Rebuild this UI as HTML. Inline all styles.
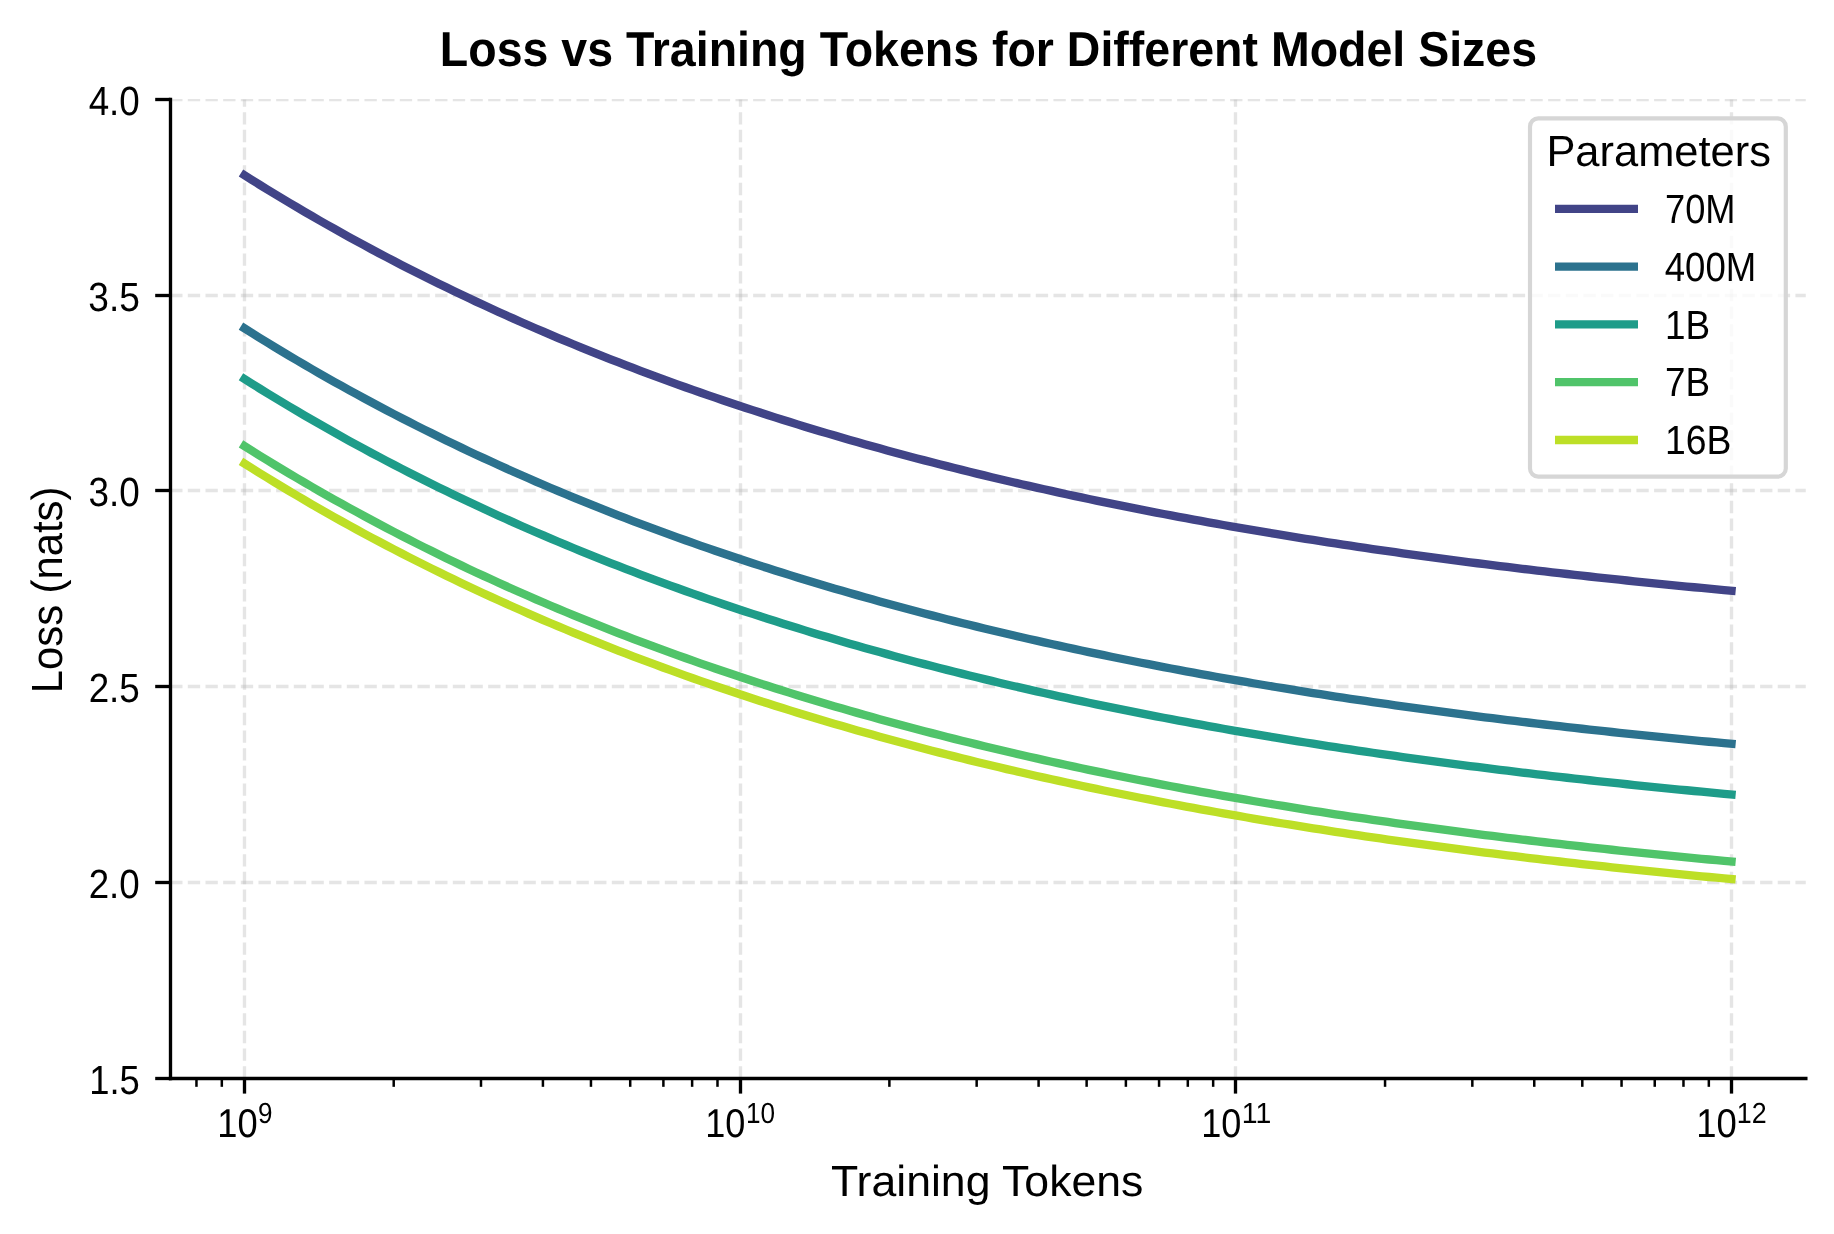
<!DOCTYPE html><html><head><meta charset="utf-8"><style>html,body{margin:0;padding:0;background:#fff;overflow:hidden}svg{display:block;will-change:transform}</style></head><body>
<svg width="1834" height="1234" viewBox="0 0 1834 1234" style="text-rendering:geometricPrecision">
<rect x="0" y="0" width="1834" height="1234" fill="#ffffff"/>
<defs><clipPath id="ax"><rect x="170.15" y="99.00" width="1635.71" height="979.50"/></clipPath></defs>
<g clip-path="url(#ax)">
<line x1="170.15" y1="99.50" x2="1805.86" y2="99.50" stroke="#b0b0b0" stroke-opacity="0.33" stroke-width="3.333" stroke-dasharray="12.333 5.333"/>
<line x1="170.15" y1="295.50" x2="1805.86" y2="295.50" stroke="#b0b0b0" stroke-opacity="0.33" stroke-width="3.333" stroke-dasharray="12.333 5.333"/>
<line x1="170.15" y1="490.50" x2="1805.86" y2="490.50" stroke="#b0b0b0" stroke-opacity="0.33" stroke-width="3.333" stroke-dasharray="12.333 5.333"/>
<line x1="170.15" y1="686.50" x2="1805.86" y2="686.50" stroke="#b0b0b0" stroke-opacity="0.33" stroke-width="3.333" stroke-dasharray="12.333 5.333"/>
<line x1="170.15" y1="882.50" x2="1805.86" y2="882.50" stroke="#b0b0b0" stroke-opacity="0.33" stroke-width="3.333" stroke-dasharray="12.333 5.333"/>
<line x1="244.50" y1="1078.50" x2="244.50" y2="99.50" stroke="#b0b0b0" stroke-opacity="0.33" stroke-width="3.333" stroke-dasharray="12.333 5.333"/>
<line x1="740.50" y1="1078.50" x2="740.50" y2="99.50" stroke="#b0b0b0" stroke-opacity="0.33" stroke-width="3.333" stroke-dasharray="12.333 5.333"/>
<line x1="1235.50" y1="1078.50" x2="1235.50" y2="99.50" stroke="#b0b0b0" stroke-opacity="0.33" stroke-width="3.333" stroke-dasharray="12.333 5.333"/>
<line x1="1731.50" y1="1078.50" x2="1731.50" y2="99.50" stroke="#b0b0b0" stroke-opacity="0.33" stroke-width="3.333" stroke-dasharray="12.333 5.333"/>
</g>
<polyline points="244.50,175.25 251.97,179.95 259.44,184.60 266.92,189.21 274.39,193.77 281.86,198.29 289.33,202.77 296.81,207.20 304.28,211.59 311.75,215.93 319.22,220.24 326.70,224.50 334.17,228.72 341.64,232.90 349.11,237.04 356.59,241.14 364.06,245.20 371.53,249.23 379.00,253.21 386.48,257.15 393.95,261.06 401.42,264.93 408.89,268.76 416.37,272.55 423.84,276.31 431.31,280.03 438.78,283.71 446.26,287.36 453.73,290.97 461.20,294.55 468.67,298.10 476.14,301.61 483.62,305.08 491.09,308.52 498.56,311.93 506.03,315.31 513.51,318.65 520.98,321.96 528.45,325.24 535.92,328.49 543.40,331.70 550.87,334.89 558.34,338.04 565.81,341.17 573.29,344.26 580.76,347.32 588.23,350.36 595.70,353.36 603.18,356.33 610.65,359.28 618.12,362.20 625.59,365.09 633.07,367.95 640.54,370.78 648.01,373.59 655.48,376.37 662.96,379.12 670.43,381.85 677.90,384.55 685.37,387.22 692.84,389.87 700.32,392.49 707.79,395.09 715.26,397.66 722.73,400.21 730.21,402.73 737.68,405.23 745.15,407.70 752.62,410.15 760.10,412.57 767.57,414.98 775.04,417.36 782.51,419.71 789.99,422.05 797.46,424.36 804.93,426.65 812.40,428.91 819.88,431.16 827.35,433.38 834.82,435.58 842.29,437.76 849.77,439.92 857.24,442.06 864.71,444.17 872.18,446.27 879.66,448.35 887.13,450.40 894.60,452.44 902.07,454.46 909.54,456.45 917.02,458.43 924.49,460.39 931.96,462.33 939.43,464.25 946.91,466.15 954.38,468.04 961.85,469.90 969.32,471.75 976.80,473.58 984.27,475.39 991.74,477.19 999.21,478.97 1006.69,480.73 1014.16,482.47 1021.63,484.20 1029.10,485.91 1036.58,487.60 1044.05,489.28 1051.52,490.94 1058.99,492.58 1066.47,494.21 1073.94,495.82 1081.41,497.42 1088.88,499.00 1096.35,500.57 1103.83,502.12 1111.30,503.66 1118.77,505.18 1126.24,506.68 1133.72,508.18 1141.19,509.65 1148.66,511.12 1156.13,512.57 1163.61,514.00 1171.08,515.42 1178.55,516.83 1186.02,518.22 1193.50,519.60 1200.97,520.97 1208.44,522.33 1215.91,523.67 1223.39,524.99 1230.86,526.31 1238.33,527.61 1245.80,528.90 1253.28,530.18 1260.75,531.44 1268.22,532.70 1275.69,533.94 1283.17,535.17 1290.64,536.38 1298.11,537.59 1305.58,538.78 1313.05,539.96 1320.53,541.13 1328.00,542.29 1335.47,543.44 1342.94,544.58 1350.42,545.70 1357.89,546.82 1365.36,547.92 1372.83,549.01 1380.31,550.10 1387.78,551.17 1395.25,552.23 1402.72,553.28 1410.20,554.32 1417.67,555.35 1425.14,556.38 1432.61,557.39 1440.09,558.39 1447.56,559.38 1455.03,560.36 1462.50,561.34 1469.98,562.30 1477.45,563.25 1484.92,564.20 1492.39,565.13 1499.87,566.06 1507.34,566.98 1514.81,567.89 1522.28,568.79 1529.75,569.68 1537.23,570.56 1544.70,571.44 1552.17,572.30 1559.64,573.16 1567.12,574.01 1574.59,574.85 1582.06,575.68 1589.53,576.51 1597.01,577.32 1604.48,578.13 1611.95,578.93 1619.42,579.73 1626.90,580.51 1634.37,581.29 1641.84,582.06 1649.31,582.83 1656.79,583.58 1664.26,584.33 1671.73,585.07 1679.20,585.80 1686.68,586.53 1694.15,587.25 1701.62,587.96 1709.09,588.67 1716.57,589.37 1724.04,590.06 1731.51,590.75" fill="none" stroke="#414487" stroke-width="8.333" stroke-linecap="square" stroke-linejoin="round"/>
<polyline points="244.50,328.32 251.97,333.02 259.44,337.67 266.92,342.28 274.39,346.84 281.86,351.36 289.33,355.83 296.81,360.27 304.28,364.66 311.75,369.00 319.22,373.31 326.70,377.57 334.17,381.79 341.64,385.97 349.11,390.11 356.59,394.21 364.06,398.27 371.53,402.29 379.00,406.28 386.48,410.22 393.95,414.13 401.42,417.99 408.89,421.82 416.37,425.62 423.84,429.37 431.31,433.09 438.78,436.78 446.26,440.43 453.73,444.04 461.20,447.62 468.67,451.16 476.14,454.67 483.62,458.15 491.09,461.59 498.56,465.00 506.03,468.38 513.51,471.72 520.98,475.03 528.45,478.31 535.92,481.56 543.40,484.77 550.87,487.96 558.34,491.11 565.81,494.23 573.29,497.33 580.76,500.39 588.23,503.42 595.70,506.43 603.18,509.40 610.65,512.35 618.12,515.27 625.59,518.16 633.07,521.02 640.54,523.85 648.01,526.66 655.48,529.44 662.96,532.19 670.43,534.92 677.90,537.62 685.37,540.29 692.84,542.94 700.32,545.56 707.79,548.16 715.26,550.73 722.73,553.27 730.21,555.80 737.68,558.29 745.15,560.77 752.62,563.22 760.10,565.64 767.57,568.05 775.04,570.42 782.51,572.78 789.99,575.11 797.46,577.42 804.93,579.71 812.40,581.98 819.88,584.22 827.35,586.45 834.82,588.65 842.29,590.83 849.77,592.99 857.24,595.12 864.71,597.24 872.18,599.34 879.66,601.41 887.13,603.47 894.60,605.51 902.07,607.52 909.54,609.52 917.02,611.50 924.49,613.46 931.96,615.40 939.43,617.32 946.91,619.22 954.38,621.11 961.85,622.97 969.32,624.82 976.80,626.65 984.27,628.46 991.74,630.26 999.21,632.03 1006.69,633.79 1014.16,635.54 1021.63,637.26 1029.10,638.97 1036.58,640.67 1044.05,642.34 1051.52,644.00 1058.99,645.65 1066.47,647.28 1073.94,648.89 1081.41,650.49 1088.88,652.07 1096.35,653.64 1103.83,655.19 1111.30,656.72 1118.77,658.24 1126.24,659.75 1133.72,661.24 1141.19,662.72 1148.66,664.18 1156.13,665.63 1163.61,667.07 1171.08,668.49 1178.55,669.90 1186.02,671.29 1193.50,672.67 1200.97,674.04 1208.44,675.39 1215.91,676.73 1223.39,678.06 1230.86,679.38 1238.33,680.68 1245.80,681.97 1253.28,683.25 1260.75,684.51 1268.22,685.76 1275.69,687.00 1283.17,688.23 1290.64,689.45 1298.11,690.65 1305.58,691.85 1313.05,693.03 1320.53,694.20 1328.00,695.36 1335.47,696.51 1342.94,697.64 1350.42,698.77 1357.89,699.88 1365.36,700.99 1372.83,702.08 1380.31,703.16 1387.78,704.24 1395.25,705.30 1402.72,706.35 1410.20,707.39 1417.67,708.42 1425.14,709.44 1432.61,710.46 1440.09,711.46 1447.56,712.45 1455.03,713.43 1462.50,714.40 1469.98,715.37 1477.45,716.32 1484.92,717.27 1492.39,718.20 1499.87,719.13 1507.34,720.05 1514.81,720.96 1522.28,721.86 1529.75,722.75 1537.23,723.63 1544.70,724.50 1552.17,725.37 1559.64,726.23 1567.12,727.08 1574.59,727.92 1582.06,728.75 1589.53,729.58 1597.01,730.39 1604.48,731.20 1611.95,732.00 1619.42,732.80 1626.90,733.58 1634.37,734.36 1641.84,735.13 1649.31,735.89 1656.79,736.65 1664.26,737.40 1671.73,738.14 1679.20,738.87 1686.68,739.60 1694.15,740.32 1701.62,741.03 1709.09,741.74 1716.57,742.44 1724.04,743.13 1731.51,743.81" fill="none" stroke="#2c728e" stroke-width="8.333" stroke-linecap="square" stroke-linejoin="round"/>
<polyline points="244.50,378.99 251.97,383.68 259.44,388.34 266.92,392.94 274.39,397.51 281.86,402.03 289.33,406.50 296.81,410.93 304.28,415.32 311.75,419.67 319.22,423.97 326.70,428.23 334.17,432.46 341.64,436.64 349.11,440.78 356.59,444.88 364.06,448.94 371.53,452.96 379.00,456.94 386.48,460.89 393.95,464.79 401.42,468.66 408.89,472.49 416.37,476.28 423.84,480.04 431.31,483.76 438.78,487.44 446.26,491.09 453.73,494.71 461.20,498.29 468.67,501.83 476.14,505.34 483.62,508.81 491.09,512.26 498.56,515.67 506.03,519.04 513.51,522.38 520.98,525.70 528.45,528.97 535.92,532.22 543.40,535.44 550.87,538.62 558.34,541.78 565.81,544.90 573.29,547.99 580.76,551.06 588.23,554.09 595.70,557.09 603.18,560.07 610.65,563.01 618.12,565.93 625.59,568.82 633.07,571.68 640.54,574.52 648.01,577.32 655.48,580.10 662.96,582.86 670.43,585.58 677.90,588.28 685.37,590.96 692.84,593.60 700.32,596.23 707.79,598.82 715.26,601.39 722.73,603.94 730.21,606.46 737.68,608.96 745.15,611.43 752.62,613.88 760.10,616.31 767.57,618.71 775.04,621.09 782.51,623.45 789.99,625.78 797.46,628.09 804.93,630.38 812.40,632.65 819.88,634.89 827.35,637.11 834.82,639.31 842.29,641.49 849.77,643.65 857.24,645.79 864.71,647.91 872.18,650.00 879.66,652.08 887.13,654.14 894.60,656.17 902.07,658.19 909.54,660.19 917.02,662.17 924.49,664.12 931.96,666.06 939.43,667.99 946.91,669.89 954.38,671.77 961.85,673.64 969.32,675.49 976.80,677.32 984.27,679.13 991.74,680.92 999.21,682.70 1006.69,684.46 1014.16,686.20 1021.63,687.93 1029.10,689.64 1036.58,691.33 1044.05,693.01 1051.52,694.67 1058.99,696.31 1066.47,697.94 1073.94,699.56 1081.41,701.15 1088.88,702.73 1096.35,704.30 1103.83,705.85 1111.30,707.39 1118.77,708.91 1126.24,710.42 1133.72,711.91 1141.19,713.39 1148.66,714.85 1156.13,716.30 1163.61,717.73 1171.08,719.16 1178.55,720.56 1186.02,721.96 1193.50,723.34 1200.97,724.71 1208.44,726.06 1215.91,727.40 1223.39,728.73 1230.86,730.04 1238.33,731.35 1245.80,732.64 1253.28,733.91 1260.75,735.18 1268.22,736.43 1275.69,737.67 1283.17,738.90 1290.64,740.12 1298.11,741.32 1305.58,742.51 1313.05,743.70 1320.53,744.87 1328.00,746.02 1335.47,747.17 1342.94,748.31 1350.42,749.43 1357.89,750.55 1365.36,751.65 1372.83,752.75 1380.31,753.83 1387.78,754.90 1395.25,755.96 1402.72,757.02 1410.20,758.06 1417.67,759.09 1425.14,760.11 1432.61,761.12 1440.09,762.12 1447.56,763.11 1455.03,764.10 1462.50,765.07 1469.98,766.03 1477.45,766.99 1484.92,767.93 1492.39,768.87 1499.87,769.80 1507.34,770.71 1514.81,771.62 1522.28,772.52 1529.75,773.41 1537.23,774.30 1544.70,775.17 1552.17,776.04 1559.64,776.89 1567.12,777.74 1574.59,778.58 1582.06,779.42 1589.53,780.24 1597.01,781.06 1604.48,781.87 1611.95,782.67 1619.42,783.46 1626.90,784.25 1634.37,785.03 1641.84,785.80 1649.31,786.56 1656.79,787.31 1664.26,788.06 1671.73,788.80 1679.20,789.54 1686.68,790.26 1694.15,790.98 1701.62,791.70 1709.09,792.40 1716.57,793.10 1724.04,793.79 1731.51,794.48" fill="none" stroke="#1e9c89" stroke-width="8.333" stroke-linecap="square" stroke-linejoin="round"/>
<polyline points="244.50,446.07 251.97,450.77 259.44,455.42 266.92,460.03 274.39,464.59 281.86,469.11 289.33,473.59 296.81,478.02 304.28,482.41 311.75,486.75 319.22,491.06 326.70,495.32 334.17,499.54 341.64,503.72 349.11,507.86 356.59,511.96 364.06,516.02 371.53,520.04 379.00,524.03 386.48,527.97 393.95,531.88 401.42,535.74 408.89,539.57 416.37,543.37 423.84,547.12 431.31,550.84 438.78,554.53 446.26,558.18 453.73,561.79 461.20,565.37 468.67,568.91 476.14,572.42 483.62,575.90 491.09,579.34 498.56,582.75 506.03,586.13 513.51,589.47 520.98,592.78 528.45,596.06 535.92,599.31 543.40,602.52 550.87,605.71 558.34,608.86 565.81,611.98 573.29,615.08 580.76,618.14 588.23,621.17 595.70,624.18 603.18,627.15 610.65,630.10 618.12,633.02 625.59,635.91 633.07,638.77 640.54,641.60 648.01,644.41 655.48,647.19 662.96,649.94 670.43,652.67 677.90,655.37 685.37,658.04 692.84,660.69 700.32,663.31 707.79,665.91 715.26,668.48 722.73,671.02 730.21,673.55 737.68,676.04 745.15,678.52 752.62,680.97 760.10,683.39 767.57,685.80 775.04,688.17 782.51,690.53 789.99,692.86 797.46,695.18 804.93,697.46 812.40,699.73 819.88,701.97 827.35,704.20 834.82,706.40 842.29,708.58 849.77,710.74 857.24,712.87 864.71,714.99 872.18,717.09 879.66,719.17 887.13,721.22 894.60,723.26 902.07,725.27 909.54,727.27 917.02,729.25 924.49,731.21 931.96,733.15 939.43,735.07 946.91,736.97 954.38,738.86 961.85,740.72 969.32,742.57 976.80,744.40 984.27,746.21 991.74,748.01 999.21,749.79 1006.69,751.55 1014.16,753.29 1021.63,755.01 1029.10,756.72 1036.58,758.42 1044.05,760.09 1051.52,761.75 1058.99,763.40 1066.47,765.03 1073.94,766.64 1081.41,768.24 1088.88,769.82 1096.35,771.39 1103.83,772.94 1111.30,774.47 1118.77,776.00 1126.24,777.50 1133.72,778.99 1141.19,780.47 1148.66,781.94 1156.13,783.38 1163.61,784.82 1171.08,786.24 1178.55,787.65 1186.02,789.04 1193.50,790.42 1200.97,791.79 1208.44,793.14 1215.91,794.48 1223.39,795.81 1230.86,797.13 1238.33,798.43 1245.80,799.72 1253.28,801.00 1260.75,802.26 1268.22,803.51 1275.69,804.76 1283.17,805.98 1290.64,807.20 1298.11,808.41 1305.58,809.60 1313.05,810.78 1320.53,811.95 1328.00,813.11 1335.47,814.26 1342.94,815.39 1350.42,816.52 1357.89,817.63 1365.36,818.74 1372.83,819.83 1380.31,820.91 1387.78,821.99 1395.25,823.05 1402.72,824.10 1410.20,825.14 1417.67,826.17 1425.14,827.19 1432.61,828.21 1440.09,829.21 1447.56,830.20 1455.03,831.18 1462.50,832.15 1469.98,833.12 1477.45,834.07 1484.92,835.02 1492.39,835.95 1499.87,836.88 1507.34,837.80 1514.81,838.71 1522.28,839.61 1529.75,840.50 1537.23,841.38 1544.70,842.26 1552.17,843.12 1559.64,843.98 1567.12,844.83 1574.59,845.67 1582.06,846.50 1589.53,847.33 1597.01,848.14 1604.48,848.95 1611.95,849.75 1619.42,850.55 1626.90,851.33 1634.37,852.11 1641.84,852.88 1649.31,853.64 1656.79,854.40 1664.26,855.15 1671.73,855.89 1679.20,856.62 1686.68,857.35 1694.15,858.07 1701.62,858.78 1709.09,859.49 1716.57,860.19 1724.04,860.88 1731.51,861.57" fill="none" stroke="#50c46a" stroke-width="8.333" stroke-linecap="square" stroke-linejoin="round"/>
<polyline points="244.50,463.60 251.97,468.29 259.44,472.95 266.92,477.55 274.39,482.12 281.86,486.64 289.33,491.11 296.81,495.54 304.28,499.93 311.75,504.28 319.22,508.58 326.70,512.85 334.17,517.07 341.64,521.25 349.11,525.39 356.59,529.49 364.06,533.55 371.53,537.57 379.00,541.55 386.48,545.50 393.95,549.40 401.42,553.27 408.89,557.10 416.37,560.89 423.84,564.65 431.31,568.37 438.78,572.05 446.26,575.70 453.73,579.32 461.20,582.90 468.67,586.44 476.14,589.95 483.62,593.43 491.09,596.87 498.56,600.28 506.03,603.65 513.51,607.00 520.98,610.31 528.45,613.58 535.92,616.83 543.40,620.05 550.87,623.23 558.34,626.39 565.81,629.51 573.29,632.60 580.76,635.67 588.23,638.70 595.70,641.70 603.18,644.68 610.65,647.63 618.12,650.54 625.59,653.43 633.07,656.29 640.54,659.13 648.01,661.93 655.48,664.71 662.96,667.47 670.43,670.19 677.90,672.89 685.37,675.57 692.84,678.21 700.32,680.84 707.79,683.43 715.26,686.00 722.73,688.55 730.21,691.07 737.68,693.57 745.15,696.04 752.62,698.49 760.10,700.92 767.57,703.32 775.04,705.70 782.51,708.06 789.99,710.39 797.46,712.70 804.93,714.99 812.40,717.26 819.88,719.50 827.35,721.72 834.82,723.92 842.29,726.10 849.77,728.26 857.24,730.40 864.71,732.52 872.18,734.61 879.66,736.69 887.13,738.75 894.60,740.78 902.07,742.80 909.54,744.80 917.02,746.78 924.49,748.73 931.96,750.67 939.43,752.60 946.91,754.50 954.38,756.38 961.85,758.25 969.32,760.10 976.80,761.93 984.27,763.74 991.74,765.53 999.21,767.31 1006.69,769.07 1014.16,770.81 1021.63,772.54 1029.10,774.25 1036.58,775.94 1044.05,777.62 1051.52,779.28 1058.99,780.92 1066.47,782.55 1073.94,784.17 1081.41,785.76 1088.88,787.35 1096.35,788.91 1103.83,790.46 1111.30,792.00 1118.77,793.52 1126.24,795.03 1133.72,796.52 1141.19,798.00 1148.66,799.46 1156.13,800.91 1163.61,802.35 1171.08,803.77 1178.55,805.17 1186.02,806.57 1193.50,807.95 1200.97,809.32 1208.44,810.67 1215.91,812.01 1223.39,813.34 1230.86,814.65 1238.33,815.96 1245.80,817.25 1253.28,818.52 1260.75,819.79 1268.22,821.04 1275.69,822.28 1283.17,823.51 1290.64,824.73 1298.11,825.93 1305.58,827.12 1313.05,828.31 1320.53,829.48 1328.00,830.64 1335.47,831.78 1342.94,832.92 1350.42,834.05 1357.89,835.16 1365.36,836.26 1372.83,837.36 1380.31,838.44 1387.78,839.51 1395.25,840.57 1402.72,841.63 1410.20,842.67 1417.67,843.70 1425.14,844.72 1432.61,845.73 1440.09,846.73 1447.56,847.72 1455.03,848.71 1462.50,849.68 1469.98,850.64 1477.45,851.60 1484.92,852.54 1492.39,853.48 1499.87,854.41 1507.34,855.32 1514.81,856.23 1522.28,857.13 1529.75,858.02 1537.23,858.91 1544.70,859.78 1552.17,860.65 1559.64,861.50 1567.12,862.35 1574.59,863.19 1582.06,864.03 1589.53,864.85 1597.01,865.67 1604.48,866.48 1611.95,867.28 1619.42,868.07 1626.90,868.86 1634.37,869.64 1641.84,870.41 1649.31,871.17 1656.79,871.92 1664.26,872.67 1671.73,873.41 1679.20,874.15 1686.68,874.88 1694.15,875.59 1701.62,876.31 1709.09,877.01 1716.57,877.71 1724.04,878.41 1731.51,879.09" fill="none" stroke="#bddf26" stroke-width="8.333" stroke-linecap="square" stroke-linejoin="round"/>
<line x1="170.50" y1="99.50" x2="170.50" y2="1078.50" stroke="#000" stroke-width="3.333" stroke-linecap="square"/>
<line x1="170.50" y1="1078.50" x2="1805.86" y2="1078.50" stroke="#000" stroke-width="3.333" stroke-linecap="square"/>
<line x1="155.20" y1="99.50" x2="170.50" y2="99.50" stroke="#000" stroke-width="3.333"/>
<line x1="155.20" y1="295.50" x2="170.50" y2="295.50" stroke="#000" stroke-width="3.333"/>
<line x1="155.20" y1="490.50" x2="170.50" y2="490.50" stroke="#000" stroke-width="3.333"/>
<line x1="155.20" y1="686.50" x2="170.50" y2="686.50" stroke="#000" stroke-width="3.333"/>
<line x1="155.20" y1="882.50" x2="170.50" y2="882.50" stroke="#000" stroke-width="3.333"/>
<line x1="155.20" y1="1078.50" x2="170.50" y2="1078.50" stroke="#000" stroke-width="3.333"/>
<line x1="244.50" y1="1078.50" x2="244.50" y2="1093.60" stroke="#000" stroke-width="3.333"/>
<line x1="740.50" y1="1078.50" x2="740.50" y2="1093.60" stroke="#000" stroke-width="3.333"/>
<line x1="1235.50" y1="1078.50" x2="1235.50" y2="1093.60" stroke="#000" stroke-width="3.333"/>
<line x1="1731.50" y1="1078.50" x2="1731.50" y2="1093.60" stroke="#000" stroke-width="3.333"/>
<line x1="196.46" y1="1078.50" x2="196.46" y2="1086.83" stroke="#000" stroke-width="2.500"/>
<line x1="221.82" y1="1078.50" x2="221.82" y2="1086.83" stroke="#000" stroke-width="2.500"/>
<line x1="393.71" y1="1078.50" x2="393.71" y2="1086.83" stroke="#000" stroke-width="2.500"/>
<line x1="480.99" y1="1078.50" x2="480.99" y2="1086.83" stroke="#000" stroke-width="2.500"/>
<line x1="542.92" y1="1078.50" x2="542.92" y2="1086.83" stroke="#000" stroke-width="2.500"/>
<line x1="590.96" y1="1078.50" x2="590.96" y2="1086.83" stroke="#000" stroke-width="2.500"/>
<line x1="630.21" y1="1078.50" x2="630.21" y2="1086.83" stroke="#000" stroke-width="2.500"/>
<line x1="663.39" y1="1078.50" x2="663.39" y2="1086.83" stroke="#000" stroke-width="2.500"/>
<line x1="692.13" y1="1078.50" x2="692.13" y2="1086.83" stroke="#000" stroke-width="2.500"/>
<line x1="717.49" y1="1078.50" x2="717.49" y2="1086.83" stroke="#000" stroke-width="2.500"/>
<line x1="889.38" y1="1078.50" x2="889.38" y2="1086.83" stroke="#000" stroke-width="2.500"/>
<line x1="976.66" y1="1078.50" x2="976.66" y2="1086.83" stroke="#000" stroke-width="2.500"/>
<line x1="1038.59" y1="1078.50" x2="1038.59" y2="1086.83" stroke="#000" stroke-width="2.500"/>
<line x1="1086.63" y1="1078.50" x2="1086.63" y2="1086.83" stroke="#000" stroke-width="2.500"/>
<line x1="1125.88" y1="1078.50" x2="1125.88" y2="1086.83" stroke="#000" stroke-width="2.500"/>
<line x1="1159.06" y1="1078.50" x2="1159.06" y2="1086.83" stroke="#000" stroke-width="2.500"/>
<line x1="1187.80" y1="1078.50" x2="1187.80" y2="1086.83" stroke="#000" stroke-width="2.500"/>
<line x1="1213.16" y1="1078.50" x2="1213.16" y2="1086.83" stroke="#000" stroke-width="2.500"/>
<line x1="1385.05" y1="1078.50" x2="1385.05" y2="1086.83" stroke="#000" stroke-width="2.500"/>
<line x1="1472.33" y1="1078.50" x2="1472.33" y2="1086.83" stroke="#000" stroke-width="2.500"/>
<line x1="1534.26" y1="1078.50" x2="1534.26" y2="1086.83" stroke="#000" stroke-width="2.500"/>
<line x1="1582.30" y1="1078.50" x2="1582.30" y2="1086.83" stroke="#000" stroke-width="2.500"/>
<line x1="1621.55" y1="1078.50" x2="1621.55" y2="1086.83" stroke="#000" stroke-width="2.500"/>
<line x1="1654.73" y1="1078.50" x2="1654.73" y2="1086.83" stroke="#000" stroke-width="2.500"/>
<line x1="1683.47" y1="1078.50" x2="1683.47" y2="1086.83" stroke="#000" stroke-width="2.500"/>
<line x1="1708.83" y1="1078.50" x2="1708.83" y2="1086.83" stroke="#000" stroke-width="2.500"/>
<rect x="1530.00" y="118.40" width="255.80" height="358.30" rx="8.3" ry="8.3" fill="#ffffff" fill-opacity="0.8" stroke="#d6d6d6" stroke-width="4.17"/>
<line x1="1555" y1="208.80" x2="1638" y2="208.80" stroke="#414487" stroke-width="8.33"/>
<line x1="1555" y1="266.60" x2="1638" y2="266.60" stroke="#2c728e" stroke-width="8.33"/>
<line x1="1555" y1="324.40" x2="1638" y2="324.40" stroke="#1e9c89" stroke-width="8.33"/>
<line x1="1555" y1="382.20" x2="1638" y2="382.20" stroke="#50c46a" stroke-width="8.33"/>
<line x1="1555" y1="440.00" x2="1638" y2="440.00" stroke="#bddf26" stroke-width="8.33"/>
<text transform="translate(439.86 65.80) scale(0.9465 1)" font-family="Liberation Sans" font-weight="bold" font-size="49.13">Loss vs Training Tokens for Different Model Sizes</text>
<text transform="translate(830.99 1195.80) scale(1.0265 1)" font-family="Liberation Sans" font-weight="normal" font-size="43.46">Training Tokens</text>
<text transform="translate(62.00 693.19) rotate(-90) scale(0.9576 1)" font-family="Liberation Sans" font-weight="normal" font-size="43.61">Loss (nats)</text>
<text transform="translate(88.63 114.70) scale(0.9029 1)" font-family="Liberation Sans" font-weight="normal" font-size="40.7">4.0</text>
<text transform="translate(88.31 310.70) scale(0.9107 1)" font-family="Liberation Sans" font-weight="normal" font-size="40.7">3.5</text>
<text transform="translate(88.42 505.70) scale(0.9067 1)" font-family="Liberation Sans" font-weight="normal" font-size="40.7">3.0</text>
<text transform="translate(88.66 701.70) scale(0.9043 1)" font-family="Liberation Sans" font-weight="normal" font-size="40.7">2.5</text>
<text transform="translate(88.67 897.70) scale(0.9022 1)" font-family="Liberation Sans" font-weight="normal" font-size="40.7">2.0</text>
<text transform="translate(89.26 1093.70) scale(0.8934 1)" font-family="Liberation Sans" font-weight="normal" font-size="40.7">1.5</text>
<text transform="translate(217.26 1136.80) scale(0.9014 1)" font-family="Liberation Sans" font-weight="normal" font-size="40.26">10</text>
<text transform="translate(258.00 1123.00) scale(0.8978 1)" font-family="Liberation Sans" font-weight="normal" font-size="29.07">9</text>
<text transform="translate(705.27 1136.80) scale(0.8965 1)" font-family="Liberation Sans" font-weight="normal" font-size="40.26">10</text>
<text transform="translate(745.96 1123.00) scale(0.9003 1)" font-family="Liberation Sans" font-weight="normal" font-size="29.07">10</text>
<text transform="translate(1201.27 1136.80) scale(0.8965 1)" font-family="Liberation Sans" font-weight="normal" font-size="40.26">10</text>
<text transform="translate(1241.79 1123.00) scale(0.9790 1)" font-family="Liberation Sans" font-weight="normal" font-size="29.07">11</text>
<text transform="translate(1696.24 1136.80) scale(0.9064 1)" font-family="Liberation Sans" font-weight="normal" font-size="40.26">10</text>
<text transform="translate(1736.81 1123.00) scale(0.9232 1)" font-family="Liberation Sans" font-weight="normal" font-size="29.07">12</text>
<text transform="translate(1546.38 165.80) scale(1.0000 1)" font-family="Liberation Sans" font-weight="normal" font-size="43.46">Parameters</text>
<text transform="translate(1665.06 222.90) scale(0.8902 1)" font-family="Liberation Sans" font-weight="normal" font-size="40.7">70M</text>
<text transform="translate(1664.73 280.75) scale(0.8983 1)" font-family="Liberation Sans" font-weight="normal" font-size="40.7">400M</text>
<text transform="translate(1664.93 338.60) scale(0.9060 1)" font-family="Liberation Sans" font-weight="normal" font-size="40.7">1B</text>
<text transform="translate(1665.04 396.45) scale(0.9037 1)" font-family="Liberation Sans" font-weight="normal" font-size="40.7">7B</text>
<text transform="translate(1664.89 454.30) scale(0.9171 1)" font-family="Liberation Sans" font-weight="normal" font-size="40.7">16B</text>
</svg></body></html>
